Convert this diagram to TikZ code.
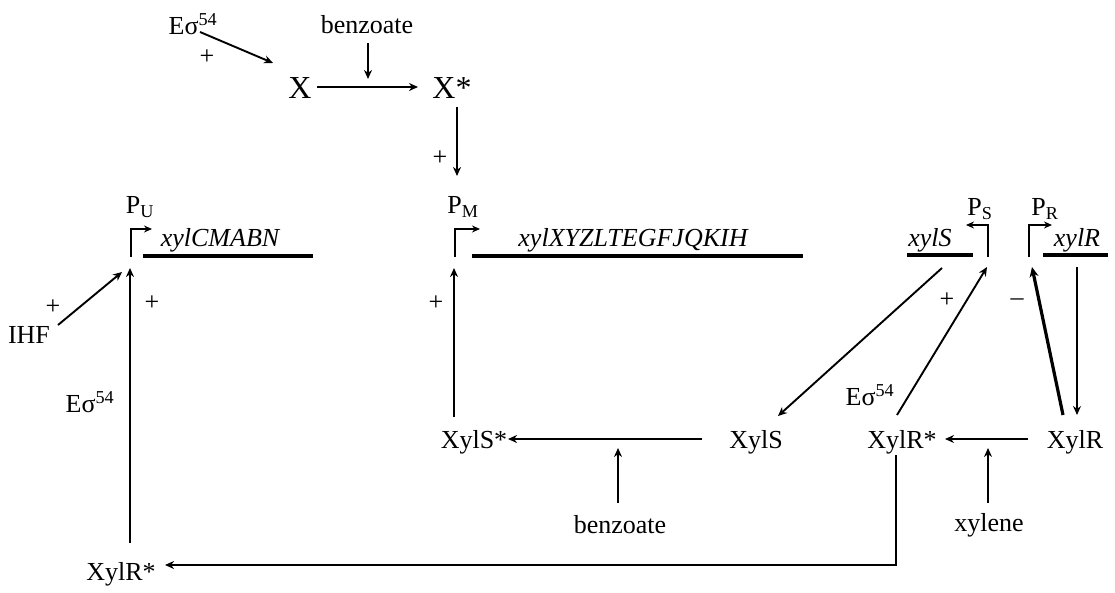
\documentclass[tikz,border=0pt]{standalone}
\usepackage{fontspec}
\setmainfont{Liberation Serif}
\usetikzlibrary{arrows.meta,calc}
\begin{document}
\begin{tikzpicture}[x=1pt,y=-1pt,
  font=\fontsize{26}{30}\selectfont,
  every node/.style={inner sep=0pt,outer sep=0pt},
  big/.style={font=\fontsize{32}{36}\selectfont},
  gn/.style={font=\fontsize{26}{30}\selectfont\itshape},
  arr/.style={-{Stealth[length=9pt,width=8pt]},line width=1.9pt},
  thickarr/.style={-{Stealth[length=10pt,width=9pt]},line width=3.2pt},
  gene/.style={line width=4.5pt},
  prom/.style={-{Stealth[length=8pt,width=7pt]},line width=2pt}]
\fill[white] (0,0) rectangle (1115,593);
\useasboundingbox (0,0) rectangle (1115,593);

% top part
\node (Etop) at (193,24) {Eσ\textsuperscript{54}};
\node (benzT) at (367,25) {benzoate};
\node[big] (X) at (300,88) {X};
\node[big] (Xs) at (452,88) {X*};
\node (plusA) at (207,57) {+};
\node (plusB) at (440,158) {+};
\coordinate (mid1) at (368,87);

% promoters and genes
\coordinate (pU) at (131,257);
\coordinate (pM) at (455,257);
\coordinate (pS) at (988,257);
\coordinate (pR) at (1029,257);
\node (PU) at (140,207) {P\textsubscript{U}};
\node (PM) at (463,207) {P\textsubscript{M}};
\node (PS) at (980,209) {P\textsubscript{S}};
\node (PR) at (1045,209) {P\textsubscript{R}};
\node[gn] (gU) at (220,240) {xylCMABN};
\node[gn] (gM) at (633,240) {xylXYZLTEGFJQKIH};
\node[gn] (gS) at (930,240) {xylS};
\node[gn] (gR) at (1077,240) {xylR};
\draw[gene] (143,256) -- (313,256);
\draw[gene] (472,256) -- (803,256);
\draw[gene] (907,255) -- (973,255);
\draw[gene] (1043,255) -- (1108,255);
\draw[prom] (pU) -- ++(0,-28) -- ++(21,0);
\draw[prom] (pM) -- ++(0,-28) -- ++(25,0);
\draw[prom] (pS) -- ++(0,-32) -- ++(-22,0);
\draw[prom] (pR) -- ++(0,-32) -- ++(23,0);

% left part
\node (IHF) at (29,335) {IHF};
\node (plusC) at (53,307) {+};
\node (plusD) at (152,303) {+};
\node (EsL) at (90,402) {Eσ\textsuperscript{54}};
\node (XylRsL) at (121,574) {XylR*};

% middle / right
\node (plusE) at (436,303) {+};
\node (plusF) at (947,300) {+};
\node (minus) at (1017,302) {–};
\node (EsR) at (870,395) {Eσ\textsuperscript{54}};
\node (XylSs) at (474,442) {XylS*};
\node (XylS) at (756,442) {XylS};
\node (XylRs) at (902,442) {XylR*};
\node (XylR) at (1075,442) {XylR};
\node (benzB) at (620,525) {benzoate};
\node (xyl) at (989,525) {xylene};

% connectors
\draw[arr] ($(Etop)+(7,8)$) -- ($(X)+(-27,-25)$);
\draw[arr] ($(benzT)+(1,18)$) -- ($(mid1)+(0,-8)$);
\draw[arr] ($(X)+(17,-1)$) -- ($(Xs)+(-34,-1)$);
\draw[arr] ($(Xs)+(5,19)$) -- ($(pM)+(2,-81)$);
\draw[arr] ($(IHF)+(29,-10)$) -- ($(pU)+(-9,15)$);
\draw[arr] ($(XylRsL)+(9,-31)$) -- ($(pU)+(-1,11)$);
\draw[arr] ($(XylSs)+(-20,-25)$) -- ($(pM)+(-1,11)$);
\draw[arr] ($(gS)+(12,28)$) -- ($(XylS)+(22,-26)$);
\draw[arr] ($(XylRs)+(-5,-27)$) -- ($(pS)+(-1,10)$);
\draw[thickarr] ($(XylR)+(-12,-27)$) -- ($(pR)+(3,10)$);
\draw[arr] ($(gR)+(0,27)$) -- ($(XylR)+(2,-27)$);
\draw[arr] ($(XylS)+(-54,-3)$) -- ($(XylSs)+(34,-3)$);
\draw[arr] ($(benzB)+(-2,-22)$) -- ($(benzB)+(-2,-77)$);
\draw[arr] ($(XylR)+(-47,-3)$) -- ($(XylRs)+(43,-3)$);
\draw[arr] ($(xyl)+(-1,-22)$) -- ($(xyl)+(-1,-77)$);
\draw[arr] ($(XylRs)+(-6,13)$) |- ($(XylRsL)+(44,-9)$);
\end{tikzpicture}
\end{document}
